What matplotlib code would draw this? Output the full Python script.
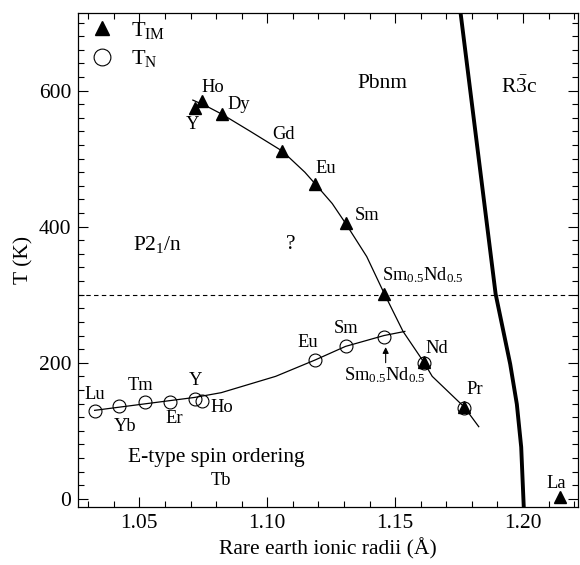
import numpy as np
import matplotlib
matplotlib.use("Agg")
import matplotlib.pyplot as plt
from matplotlib.ticker import MultipleLocator, FormatStrFormatter

plt.rcParams['font.family'] = ['Liberation Serif', 'DejaVu Serif']
plt.rcParams['mathtext.fontset'] = 'custom'
plt.rcParams['mathtext.rm'] = 'Liberation Serif'
plt.rcParams['mathtext.it'] = 'Liberation Serif:italic'

# T_IM (filled triangles)
tim_names = ["Y", "Ho", "Dy", "Gd", "Eu", "Sm", "Sm0.5Nd0.5", "Nd", "Pr", "La"]
tim_r = [1.0716, 1.0746, 1.0824, 1.1059, 1.1187, 1.1306, 1.1457, 1.1612, 1.1770, 1.2145]
tim_T = [575, 584, 565, 511, 463, 405, 301, 201, 135, 2]

# T_N (open circles)
tn_names = ["Lu", "Yb", "Tm", "Er", "Y", "Ho", "Eu", "Sm", "Sm0.5Nd0.5", "Nd", "Pr"]
tn_r = [1.0325, 1.0422, 1.0521, 1.0618, 1.0716, 1.0746, 1.1187, 1.1306, 1.1457, 1.1612, 1.1770]
tn_T = [129, 137, 143, 143, 147, 144, 204, 224, 238, 200, 134]

# guide lines through the data
tim_line_r = [1.0709, 1.0763, 1.0824, 1.0934, 1.1059, 1.1147, 1.1187, 1.1254, 1.1306,
              1.1389, 1.1457, 1.1531, 1.1612, 1.1645, 1.1770, 1.1827]
tim_line_T = [586, 577, 565, 540, 511, 480, 463, 434, 405, 356, 302, 246, 201, 180, 135, 106]
tn_line_r = [1.0325, 1.0716, 1.0820, 1.1033, 1.1187, 1.1306, 1.1457, 1.1538]
tn_line_T = [130, 149, 156, 180, 204, 224, 240, 246]

# Pbnm / R-3c boundary
bound_r = [1.1756, 1.1893, 1.1950, 1.1976, 1.1993, 1.2003]
bound_T = [714, 301, 198, 139, 76, -12]

fig = plt.figure(figsize=(5.8, 5.65), dpi=100)
ax = fig.add_axes([0.1345, 0.1027, 0.862, 0.8743])

ax.plot(tim_line_r, tim_line_T, color='k', lw=0.9)
ax.plot(tn_line_r, tn_line_T, color='k', lw=0.9)
ax.plot(bound_r, bound_T, color='k', lw=2.8)
ax.axhline(300, color='k', lw=0.8, ls=(0, (4, 3)))

ax.plot(tn_r, tn_T, 'o', ms=9.3, mfc='none', mec='k', mew=0.8, label=r"T$_{\mathrm{N}}$")
ax.plot(tim_r, tim_T, '^', ms=8.3, color='k', label=r"T$_{\mathrm{IM}}$")

fs = 13.3
big = 15.5
sub = r"Sm$_{0.5}$Nd$_{0.5}$"
labels = [
    ("Ho", 1.0789, 604), ("Dy", 1.0888, 579), ("Y", 1.0709, 550), ("Gd", 1.1062, 535),
    ("Eu", 1.1228, 485), ("Sm", 1.1389, 417), (sub, 1.1609, 328),
    ("Lu", 1.0325, 154), ("Yb", 1.0443, 107), ("Tm", 1.0503, 167), ("Er", 1.0635, 118),
    ("Y", 1.0720, 174), ("Ho", 1.0824, 134), ("Eu", 1.1157, 229), ("Sm", 1.1310, 250),
    ("Nd", 1.1663, 221), ("Pr", 1.1811, 161), (sub, 1.1460, 182), ("La", 1.2131, 23),
]
for txt, x, y in labels:
    ax.text(x, y, txt, fontsize=fs, ha='center', va='center')

ax.annotate("", xy=(1.1463, 227), xytext=(1.1463, 196),
            arrowprops=dict(arrowstyle='-|>', color='k', lw=0.8, mutation_scale=9))

ax.text(1.145, 610, "Pbnm", fontsize=big, ha='center', va='center')
ax.text(1.1986, 605, r"R$\bar{\mathrm{3}}$c", fontsize=big, ha='center', va='center')
ax.text(1.0571, 374, r"P2$_1$/n", fontsize=big, ha='center', va='center')
ax.text(1.1090, 374, "?", fontsize=big, ha='center', va='center')
ax.text(1.0801, 60, "E-type spin ordering", fontsize=big, ha='center', va='center')
ax.text(1.0820, 27, "Tb", fontsize=fs, ha='center', va='center')

handles, labs = ax.get_legend_handles_labels()
ax.legend(handles[::-1], labs[::-1], loc='upper left', bbox_to_anchor=(0.0, 1.0),
          frameon=False, fontsize=16, markerscale=1.3, borderpad=0.3,
          handletextpad=0.5, borderaxespad=0.0, labelspacing=0.35, handlelength=1.6)

ax.set_xlim(1.026, 1.2215)
ax.set_ylim(-12, 714)
ax.xaxis.set_major_locator(MultipleLocator(0.05))
ax.xaxis.set_minor_locator(MultipleLocator(0.01))
ax.yaxis.set_major_locator(MultipleLocator(200))
ax.yaxis.set_minor_locator(MultipleLocator(20))
ax.xaxis.set_major_formatter(FormatStrFormatter('%.2f'))
ax.tick_params(which='both', direction='in', top=True, right=True, labelsize=big)
ax.tick_params(which='major', length=7, width=0.8, pad=5)
ax.tick_params(which='minor', length=4, width=0.8)
for s in ax.spines.values():
    s.set_linewidth(0.9)

ax.set_xlabel("Rare earth ionic radii (Å)", fontsize=big, labelpad=4)
ax.set_ylabel("T (K)", fontsize=big, labelpad=4)

fig.savefig("out.png", dpi=100)
